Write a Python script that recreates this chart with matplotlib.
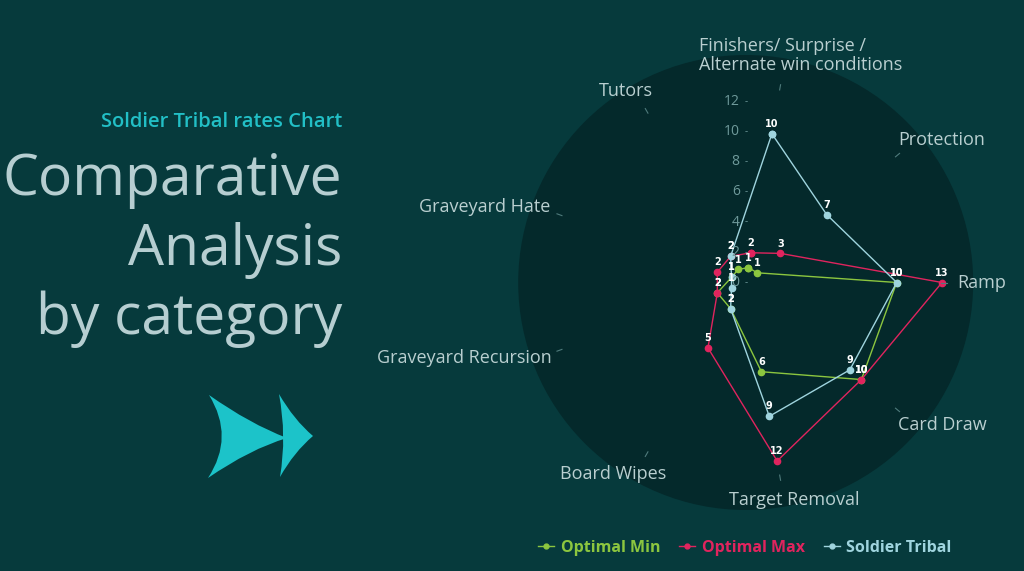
import numpy as np
import matplotlib
matplotlib.use("Agg")
import matplotlib.pyplot as plt
from matplotlib.path import Path
from matplotlib.patches import PathPatch, Circle
from matplotlib.lines import Line2D
import matplotlib.transforms as mtransforms

plt.rcParams['font.family'] = ['Open Sans', 'DejaVu Sans']

# data
categories = ["Finishers/ Surprise /\nAlternate win conditions", "Protection", "Ramp",
              "Card Draw", "Target Removal", "Board Wipes", "Graveyard Recursion",
              "Graveyard Hate", "Tutors"]
optimal_min = [1, 1, 10, 10, 6, 2, 2, 1, 1]
optimal_max = [2, 3, 13, 10, 12, 5, 2, 2, 2]
soldier_tribal = [10, 7, 10, 9, 9, 2, 1, 1, 2]
series_names = ["Optimal Min", "Optimal Max", "Soldier Tribal"]
series_colors = ["#8cc63f", "#e0245e", "#9fd4de"]
r_ticks = [0, 2, 4, 6, 8, 10, 12]

BG = "#063a3c"
POLAR_BG = "#04292b"
W, H = 1024, 571

fig = plt.figure(figsize=(W / 100, H / 100), dpi=100, facecolor=BG)

# background layer in pixel coords for left-hand decoration
bg = fig.add_axes([0, 0, 1, 1], zorder=0)
bg.set_xlim(0, W)
bg.set_ylim(H, 0)
bg.axis("off")

cx, cy, rad = 745.7, 282.5, 227.5
bg.add_patch(Circle((cx, cy), rad, facecolor=POLAR_BG, edgecolor="none"))

# double arrow
arrow_col = "#1cc3c9"
codes = [Path.MOVETO, Path.CURVE3, Path.CURVE3, Path.CURVE3, Path.CURVE3,
         Path.CURVE3, Path.CURVE3, Path.CLOSEPOLY]
shape1 = [(209, 395), (250, 424), (287, 438), (250, 449), (208, 478),
          (235, 437), (209, 395), (209, 395)]
shape2 = [(279, 394), (294, 420), (313, 436), (294, 452), (280, 477),
          (287, 436), (279, 394), (279, 394)]
for verts in (shape1, shape2):
    bg.add_patch(PathPatch(Path(verts, codes), facecolor=arrow_col, edgecolor="none"))

# left text block
bg.text(342, 122, "Soldier Tribal rates Chart", color="#22bfc6", fontsize=14.5,
        fontweight="semibold", ha="right", va="center")
big_col = "#b6ced1"
for txt, base in [("Comparative", 195), ("Analysis", 265), ("by category", 334)]:
    bg.text(342, base, txt, color=big_col, fontsize=41, ha="right", va="baseline")

# polar chart
px_per_unit = 15.1
rmax = rad / px_per_unit
ax = fig.add_axes([(cx - rad) / W, (H - cy - rad) / H, 2 * rad / W, 2 * rad / H],
                  projection="polar", zorder=2)
ax.patch.set_alpha(0)
ax.set_theta_zero_location("N")
ax.set_theta_direction(-1)
ax.set_ylim(0, rmax)
ax.grid(False)
ax.spines["polar"].set_visible(False)
ax.set_xticks([])
ax.set_yticks([])

angles = np.deg2rad(10 + 40 * np.arange(len(categories)))
closed = np.append(angles, angles[0])

for name, vals, col in zip(series_names,
                           [optimal_min, optimal_max, soldier_tribal],
                           series_colors):
    v = np.append(vals, vals[0])
    ax.plot(closed, v, color=col, lw=1.0, marker="o", ms=4.5, label=name)
    for a, val in zip(angles, vals):
        ax.annotate(str(val), (a, val), xytext=(0, 3.5), textcoords="offset points",
                    ha="center", va="bottom", fontsize=7, fontweight="bold",
                    color="white", zorder=5, family="DejaVu Sans")

# radial tick labels along the vertical axis
tick_col = "#6f9a9b"
lab_tr = mtransforms.offset_copy(ax.transData, fig=fig, x=-6, y=0, units="dots")
for t in r_ticks:
    ax.text(0, t, str(t), transform=lab_tr, ha="right", va="center",
            fontsize=10, color=tick_col)
    ax.text(0, t, "-", transform=ax.transData, ha="center", va="center",
            fontsize=7, color=tick_col)

# small angular tick marks
for a in angles:
    ax.plot([a, a], [12.95, 13.3], color="#4f7b7c", lw=0.8)

# category labels, anchored around the circle
fig.canvas.draw()
renderer = fig.canvas.get_renderer()
r_lab = 212 / px_per_unit
lab_col = "#b9cfd0"
for a, lab in zip(angles, categories):
    t = ax.text(a, r_lab, lab, ha="left", va="bottom", fontsize=13,
                color=lab_col, linespacing=1.05, multialignment="left")
    bb = t.get_window_extent(renderer)
    fx = 0.5 * (1 - np.sin(a))
    fy = 0.5 * (1 - np.cos(a))
    t.set_transform(mtransforms.offset_copy(ax.transData, fig=fig,
                                            x=-fx * bb.width, y=-fy * bb.height,
                                            units="dots"))

# legend
handles = [Line2D([0], [0], color=c, lw=1, marker="o", ms=3.5) for c in series_colors]
leg = fig.legend(handles, series_names, loc="center", ncol=3,
                 bbox_to_anchor=(745 / W, 1 - 548 / H), frameon=False,
                 handlelength=1.0, handletextpad=0.4, columnspacing=1.2,
                 prop={"size": 11.5, "weight": "bold"})
for txt, c in zip(leg.get_texts(), series_colors):
    txt.set_color(c)

fig.savefig("out.png", dpi=100, facecolor=BG)
